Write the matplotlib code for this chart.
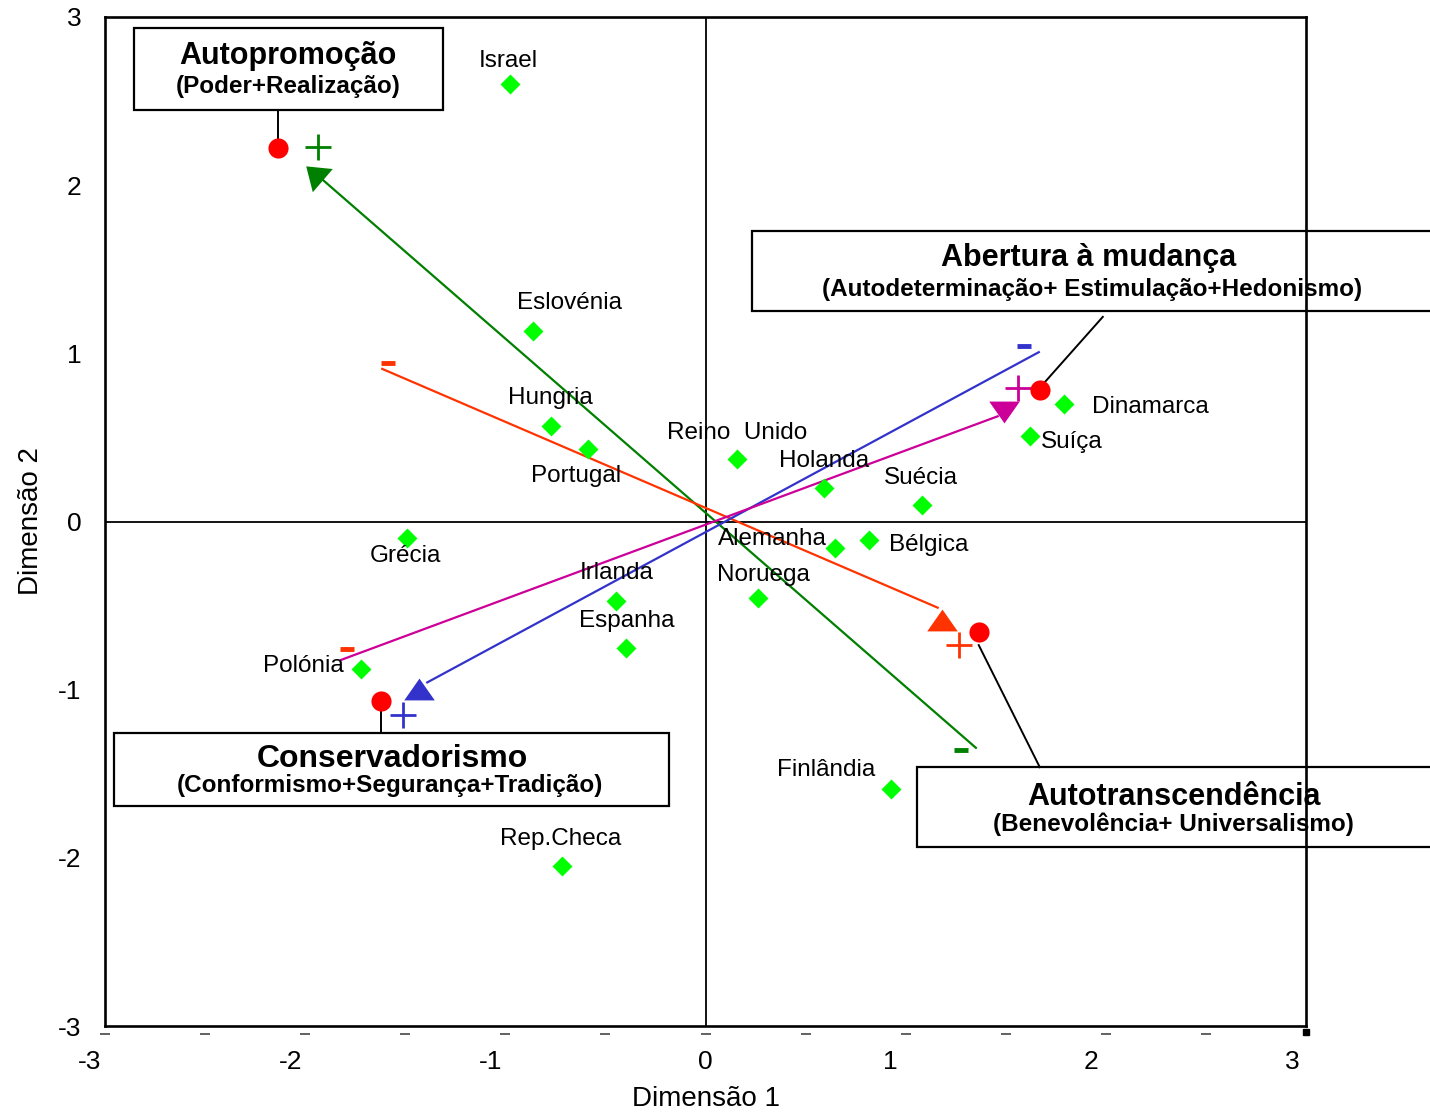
import numpy as np
import matplotlib
matplotlib.use("Agg")
import matplotlib.pyplot as plt
from matplotlib.patches import Rectangle
from matplotlib.transforms import ScaledTranslation

plt.rcParams['font.family'] = ['Liberation Sans', 'DejaVu Sans']

# ---------------- data ----------------
countries = ['Israel', 'Eslovénia', 'Hungria', 'Portugal', 'Reino  Unido', 'Holanda',
             'Suécia', 'Dinamarca', 'Suíça', 'Grécia', 'Alemanha', 'Bélgica',
             'Irlanda', 'Noruega', 'Espanha', 'Polónia', 'Finlândia', 'Rep.Checa']
dim1 = [-0.975, -0.86, -0.77, -0.585, 0.155, 0.59, 1.08, 1.79, 1.62, -1.49,
        0.645, 0.815, -0.445, 0.26, -0.395, -1.72, 0.925, -0.715]
dim2 = [2.60, 1.13, 0.57, 0.43, 0.37, 0.20, 0.10, 0.70, 0.51, -0.10,
        -0.16, -0.11, -0.47, -0.455, -0.75, -0.88, -1.59, -2.05]

# label placement (data coords) and alignment
lab_x = [-0.985, -0.68, -0.775, -0.645, 0.16, 0.59, 1.075, 1.93, 1.675, -1.5,
         0.335, 0.915, -0.445, 0.29, -0.395, -2.01, 0.605, -0.725]
lab_y = [2.741, 1.301, 0.735, 0.271, 0.527, 0.36, 0.259, 0.682, 0.473, -0.205,
         -0.104, -0.14, -0.307, -0.318, -0.592, -0.86, -1.479, -1.89]
lab_ha = ['center', 'center', 'center', 'center', 'center', 'center', 'center', 'left',
          'left', 'center', 'center', 'left', 'center', 'center', 'center', 'center',
          'center', 'center']

# value types (red points)
value_titles = ['Autopromoção', 'Abertura à mudança', 'Autotranscendência', 'Conservadorismo']
value_subtitles = ['(Poder+Realização)', '(Autodeterminação+ Estimulação+Hedonismo)',
                   '(Benevolência+ Universalismo)', '(Conformismo+Segurança+Tradição)']
value_x = [-2.135, 1.67, 1.365, -1.62]
value_y = [2.22, 0.78, -0.66, -1.07]

# vectors (from "-" end to "+" end)
vec_colors = ['#008000', '#FF3300', '#3333CC', '#CC0099']
vec_start_x = [1.355, -1.62, 1.67, -1.825]
vec_start_y = [-1.35, 0.91, 1.01, -0.825]
vec_end_x = [-1.925, 1.165, -1.395, 1.465]
vec_end_y = [2.045, -0.515, -0.96, 0.628]
head_x = [-1.955, 1.18, -1.43, 1.49]
head_y = [2.07, -0.586, -0.997, 0.652]
head_rot = [49.3, 0.0, 0.0, 180.0]
head_ms = [27, 22, 22, 22]

plus_x = [-1.935, 1.265, -1.51, 1.56]
plus_y = [2.229, -0.735, -1.152, 0.795]
minus_x = [1.275, -1.585, 1.59, -1.79]
minus_y = [-1.36, 0.943, 1.045, -0.759]
minus_colors = ['#008000', '#FF3300', '#3333CC', '#FF3300']

# boxes: (x0, y0, x1, y1) in data coords
box_x0 = [-2.855, 0.23, 1.055, -2.955]
box_x1 = [-1.31, 3.7, 3.7, -0.18]
box_y0 = [2.449, 1.253, -1.938, -1.693]
box_y1 = [2.9375, 1.729, -1.461, -1.259]
title_x = [-2.085, 1.915, 2.34, -1.565]
title_y = [2.771, 1.568, -1.64, -1.414]
sub_x = [-2.085, 1.93, 2.34, -1.575]
sub_y = [2.585, 1.377, -1.80, -1.57]
title_size = [22, 22, 22, 23]
leader_x0 = [-2.135, 1.985, 1.67, -1.62]
leader_y0 = [2.449, 1.217, -1.461, -1.259]
leader_x1 = [-2.135, 1.67, 1.365, -1.62]
leader_y1 = [2.24, 0.795, -0.735, -1.134]

xticks = [-3, -2, -1, 0, 1, 2, 3]
yticks = [-3, -2, -1, 0, 1, 2, 3]
xtick_shift_px = [-15, -15, -15, 0, -15, -15, -14]

# ---------------- figure ----------------
fig = plt.figure(figsize=(14.3, 11.13), dpi=100)
ax = fig.add_axes([105 / 1430, 1 - 1026 / 1113, 1201 / 1430, 1009 / 1113])
ax.set_xlim(-3, 3)
ax.set_ylim(-3, 3)

for s in ax.spines.values():
    s.set_linewidth(1.9)
    s.set_zorder(6)

ax.axhline(0, color='black', lw=1.3, zorder=2)
ax.axvline(0, color='black', lw=1.3, zorder=2)

ax.set_xticks(xticks)
ax.set_yticks(yticks)
ax.set_xticklabels([str(t) for t in xticks])
ax.set_yticklabels([str(t) for t in yticks])
ax.tick_params(axis='both', length=0, labelsize=19)
ax.tick_params(axis='x', pad=17)
ax.tick_params(axis='y', pad=17)
for lbl, sh in zip(ax.get_xticklabels(), xtick_shift_px):
    lbl.set_transform(lbl.get_transform() + ScaledTranslation(sh / 100, 0, fig.dpi_scale_trans))

# minor dashes below the x axis
minor = np.arange(-3, 3, 0.5)
ax.plot(minor, np.full(len(minor), -0.008), linestyle='none', marker='_', ms=7, mew=1.3,
        color='#555555', transform=ax.get_xaxis_transform(), clip_on=False)
ax.plot([3], [-0.006], linestyle='none', marker='s', ms=4, color='black',
        transform=ax.get_xaxis_transform(), clip_on=False, zorder=7)
ax.plot([-3.03], [1.0], linestyle='none', marker='s', ms=4, color='black',
        transform=ax.get_yaxis_transform(), clip_on=False, zorder=7)

ax.set_xlabel('Dimensão 1', fontsize=20, labelpad=9)
ax.set_ylabel('Dimensão 2', fontsize=20, labelpad=10)

# vectors
base_tri = np.array([[-0.7, -0.5], [0.7, -0.5], [0.0, 0.5]])
for i in range(4):
    ax.plot([vec_start_x[i], vec_end_x[i]], [vec_start_y[i], vec_end_y[i]],
            color=vec_colors[i], lw=1.6, zorder=3, solid_capstyle='butt')
    a = np.deg2rad(head_rot[i])
    rot = np.array([[np.cos(a), -np.sin(a)], [np.sin(a), np.cos(a)]])
    verts = base_tri @ rot.T
    ax.plot([head_x[i]], [head_y[i]], linestyle='none', marker=verts, ms=head_ms[i],
            color=vec_colors[i], mec='none', zorder=4)
    ax.plot([plus_x[i]], [plus_y[i]], linestyle='none', marker='+', ms=19, mew=2,
            color=vec_colors[i], zorder=4)
    ax.plot([minus_x[i]], [minus_y[i]], linestyle='none', marker='_', ms=10, mew=3.5,
            color=minus_colors[i], zorder=4)

# countries
ax.plot(dim1, dim2, linestyle='none', marker='D', ms=10, color='#00FF00', mec='none', zorder=5)
for name, lx, ly, ha in zip(countries, lab_x, lab_y, lab_ha):
    ax.text(lx, ly, name, fontsize=17.5, ha=ha, va='center', zorder=5)

# value types: boxes, leaders, red dots
for i in range(4):
    ax.add_patch(Rectangle((box_x0[i], box_y0[i]), box_x1[i] - box_x0[i], box_y1[i] - box_y0[i],
                           facecolor='white', edgecolor='black', lw=1.6, zorder=1.5, clip_on=False))
    ax.text(title_x[i], title_y[i], value_titles[i], fontsize=title_size[i], fontweight='bold',
            ha='center', va='center', zorder=5, clip_on=False)
    ax.text(sub_x[i], sub_y[i], value_subtitles[i], fontsize=17.5, fontweight='bold',
            ha='center', va='center', zorder=5, clip_on=False)
    ax.plot([leader_x0[i], leader_x1[i]], [leader_y0[i], leader_y1[i]], color='black', lw=1.4,
            zorder=3)
ax.plot(value_x, value_y, linestyle='none', marker='o', ms=14.5, color='#FF0000', mec='none', zorder=5)

fig.savefig('out.png', dpi=100)
